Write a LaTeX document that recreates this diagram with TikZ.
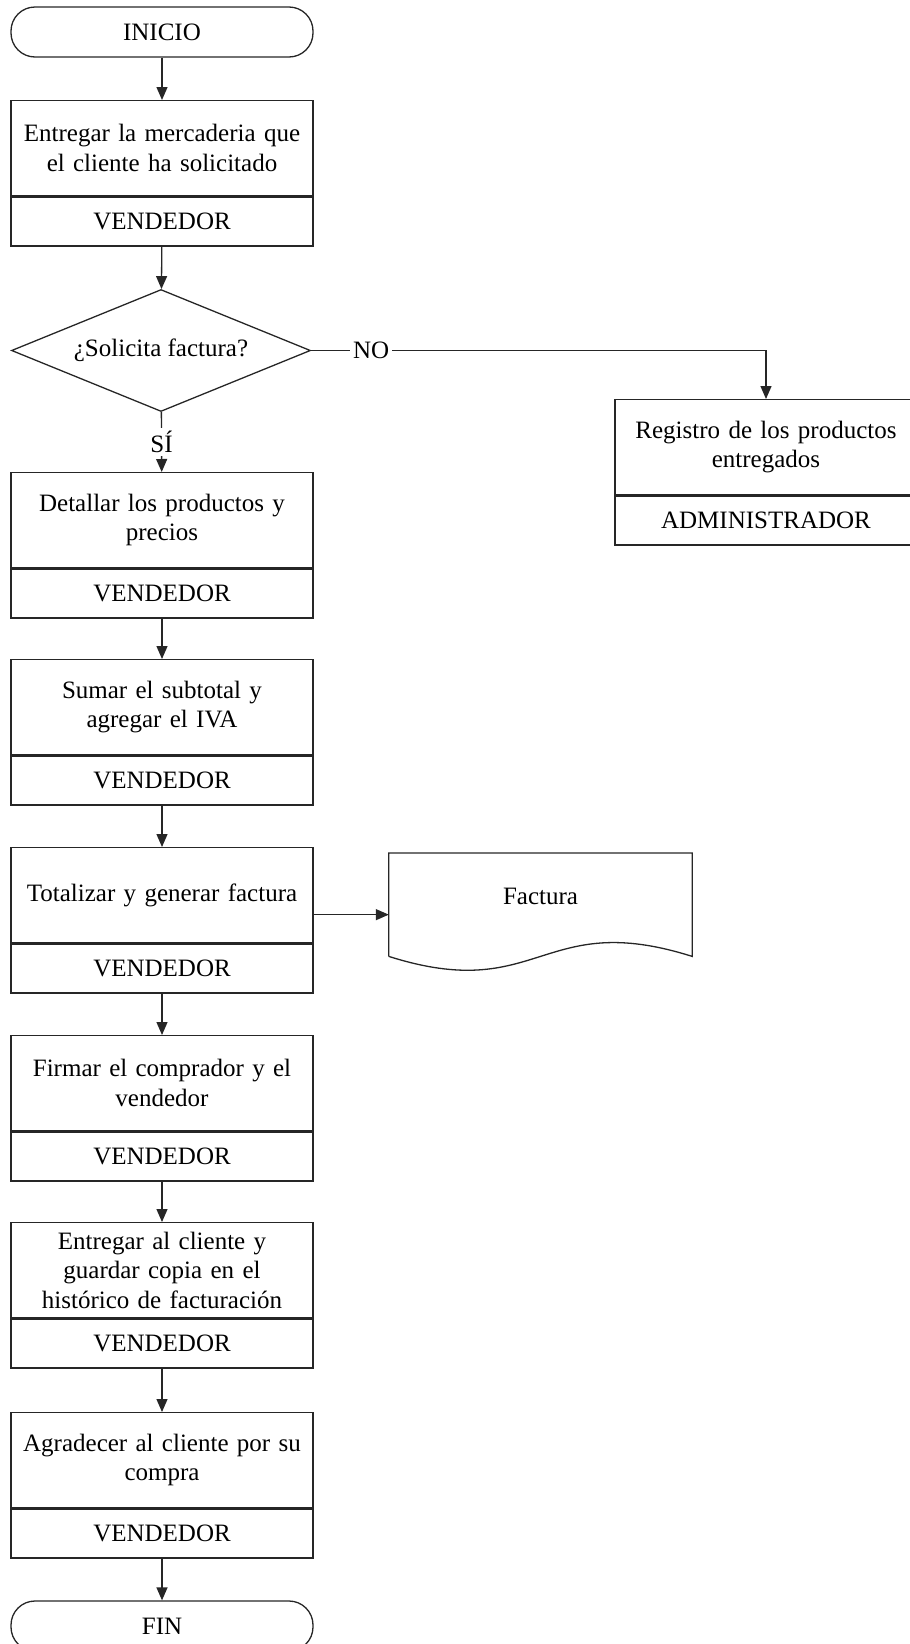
\documentclass[tikz,border=0pt]{standalone}
\usepackage{fontspec}
\setmainfont{Liberation Serif}
\usetikzlibrary{positioning,shapes.geometric,arrows.meta}

\begin{document}
\begin{tikzpicture}[x=1pt, y=-1pt,
    every node/.style={font=\fontsize{25}{29.5}\selectfont},
    linea/.style={draw=black!85, line width=1.3pt},
    flecha/.style={linea, -{Triangle[length=13pt,width=11pt]}},
    terminal/.style={linea, rounded corners=24pt, minimum width=302pt, minimum height=50pt, inner sep=0pt},
    proceso/.style={linea, minimum width=302pt, minimum height=95pt, text width=292pt, align=center, inner sep=0pt},
    rol/.style={linea, minimum width=302pt, minimum height=49pt, inner sep=0pt},
    decision/.style={linea, diamond, minimum width=299pt, minimum height=122pt, inner sep=0pt},
    etiqueta/.style={fill=white, inner sep=3pt}]
  \useasboundingbox (0,0) rectangle (910,1644);

  % inicio
  \node[terminal] (inicio) at (162,32) {INICIO};

  % entregar mercaderia
  \node[proceso, anchor=north] (entrega) at (162,100) {Entregar la mercaderia que\\el cliente ha solicitado};
  \node[rol, below=0pt of entrega] (entrega-r) {VENDEDOR};

  % pregunta
  \node[decision, label=center:{¿Solicita factura?}] (pregunta) at (161,350.5) {};

  % rama NO
  \node[proceso, anchor=north] (registro) at (766,399) {Registro de los productos\\entregados};
  \node[rol, below=0pt of registro] (registro-r) {ADMINISTRADOR};

  % rama SI
  \node[proceso, anchor=north] (detalle) at (162,472) {Detallar los productos y\\precios};
  \node[rol, below=0pt of detalle] (detalle-r) {VENDEDOR};

  \node[proceso, anchor=north] (suma) at (162,659) {Sumar el subtotal y\\agregar el IVA};
  \node[rol, below=0pt of suma] (suma-r) {VENDEDOR};

  \node[proceso, anchor=north] (total) at (162,847) {Totalizar y generar factura};
  \node[rol, below=0pt of total] (total-r) {VENDEDOR};

  \node[proceso, anchor=north] (firma) at (162,1035) {Firmar el comprador y el\\vendedor};
  \node[rol, below=0pt of firma] (firma-r) {VENDEDOR};

  \node[proceso, anchor=north] (copia) at (162,1222) {Entregar al cliente y\\guardar copia en el\\histórico de facturación};
  \node[rol, below=0pt of copia] (copia-r) {VENDEDOR};

  \node[proceso, anchor=north] (gracias) at (162,1412) {Agradecer al cliente por su\\compra};
  \node[rol, below=0pt of gracias] (gracias-r) {VENDEDOR};

  % fin
  \node[terminal] (fin) at (162,1626) {FIN};

  % documento factura
  \node[minimum width=303pt, minimum height=103pt, inner sep=0pt, text depth=16pt, anchor=north] (factura) at (540.5,853) {Factura};
  \draw[linea] (factura.south west) -- (factura.north west) -- (factura.north east) -- (factura.south east)
      .. controls +(-151.5,-48) and +(151.5,48) .. (factura.south west);

  % conectores
  \draw[flecha] (inicio) -- (entrega);
  \draw[flecha] (entrega-r) -- (pregunta);
  \draw[flecha] (pregunta) -| node[etiqueta, pos=0.066] {NO} (registro);
  \draw[flecha] (pregunta) -- node[etiqueta] {SÍ} (detalle);
  \draw[flecha] (detalle-r) -- (suma);
  \draw[flecha] (suma-r) -- (total);
  \draw[flecha] ([yshift=-19.5pt]total.east) coordinate (t) -- (t -| factura.west);
  \draw[flecha] (total-r) -- (firma);
  \draw[flecha] (firma-r) -- (copia);
  \draw[flecha] (copia-r) -- (gracias);
  \draw[flecha] (gracias-r) -- (fin);
\end{tikzpicture}
\end{document}
